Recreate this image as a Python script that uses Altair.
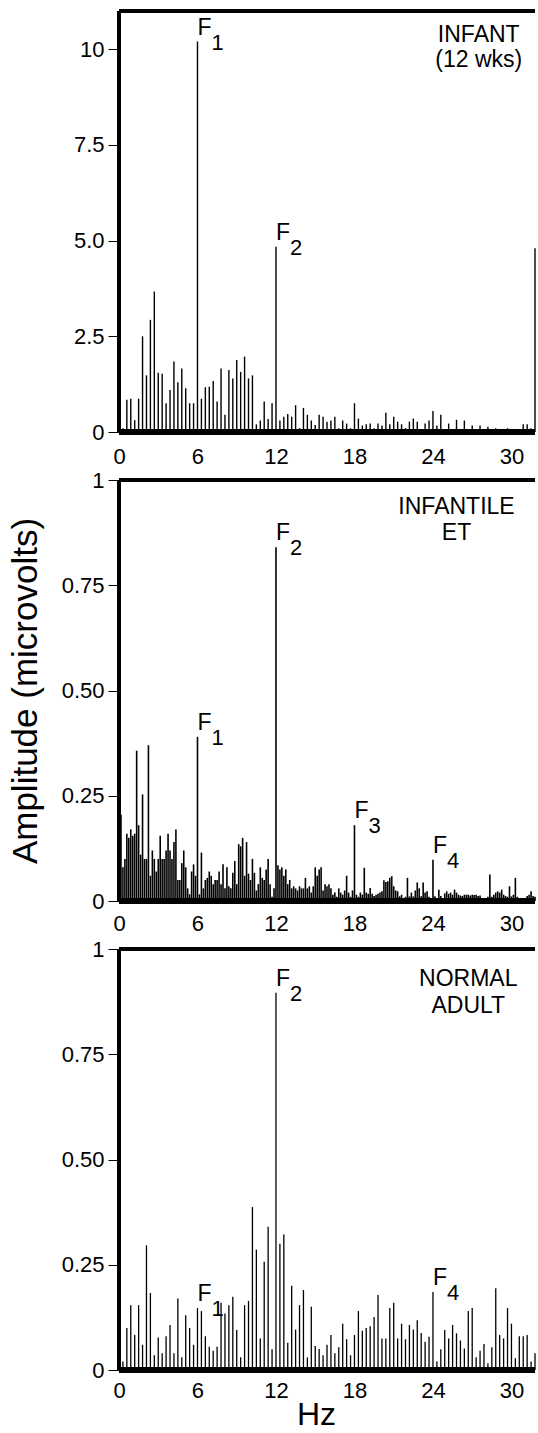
import altair as alt
import pandas as pd

FONT = "Liberation Sans"

# ---------------- data ----------------
# Panel A: infant (12 wks), 0.3 Hz bins
STEP_A = 0.3
infant_amp = [
    0.45, 0.1, 0.84, 0.87, 0.31, 0.87, 2.5, 1.48, 2.93, 3.67,
    1.55, 1.52, 0.75, 1.1, 1.84, 1.3, 1.66, 1.14, 0.75, 0.75,
    10.2, 0.87, 1.17, 1.18, 1.33, 0.8, 1.66, 0.45, 1.62, 1.4,
    1.88, 1.57, 1.97, 1.4, 1.48, 0.2, 0.3, 0.8, 0.34, 0.75,
    4.84, 0.3, 0.4, 0.47, 0.4, 0.7, 0.1, 0.63, 0.45, 0.3,
    0.18, 0.45, 0.4, 0.27, 0.3, 0.4, 0.1, 0.3, 0.22, 0.1,
    0.75, 0.35, 0.17, 0.2, 0.22, 0.1, 0.22, 0.17, 0.5, 0.2,
    0.4, 0.27, 0.2, 0.1, 0.27, 0.35, 0.27, 0.05, 0.22, 0.3,
    0.55, 0.17, 0.45, 0.05, 0.22, 0.05, 0.32, 0.05, 0.3, 0.05,
    0.17, 0.08, 0.17, 0.05, 0.14, 0.08, 0.1, 0.08, 0.08, 0.1,
    0.08, 0.05, 0.03, 0.2, 0.2, 0.1, 4.8,
]

# Panel B: infantile ET, 0.15 Hz bins
STEP_B = 0.15
et_amp = [
    0.03, 0.205, 0.08, 0.1, 0.16, 0.15, 0.17, 0.155, 0.16, 0.357,
    0.18, 0.11, 0.253, 0.1, 0.1, 0.37, 0.06, 0.12, 0.1, 0.07,
    0.1, 0.155, 0.1, 0.1, 0.12, 0.16, 0.12, 0.1, 0.14, 0.17,
    0.05, 0.05, 0.09, 0.12, 0.08, 0.03, 0.016, 0.07, 0.087, 0.06,
    0.39, 0.016, 0.115, 0.03, 0.05, 0.055, 0.07, 0.06, 0.04, 0.05,
    0.05, 0.07, 0.04, 0.087, 0.03, 0.08, 0.035, 0.03, 0.067, 0.095,
    0.04, 0.135, 0.13, 0.15, 0.06, 0.14, 0.065, 0.05, 0.1, 0.067,
    0.025, 0.04, 0.08, 0.055, 0.05, 0.075, 0.1, 0.04, 0.01, 0.03,
    0.84, 0.085, 0.075, 0.08, 0.06, 0.075, 0.04, 0.05, 0.03, 0.035,
    0.03, 0.025, 0.035, 0.03, 0.03, 0.055, 0.03, 0.035, 0.02, 0.035,
    0.08, 0.06, 0.075, 0.08, 0.025, 0.04, 0.035, 0.04, 0.03, 0.015,
    0.02, 0.01, 0.03, 0.02, 0.015, 0.025, 0.06, 0.02, 0.01, 0.025,
    0.18, 0.015, 0.01, 0.02, 0.015, 0.079, 0.02, 0.017, 0.031, 0.017,
    0.012, 0.015, 0.017, 0.02, 0.023, 0.049, 0.045, 0.047, 0.055, 0.059,
    0.035, 0.025, 0.023, 0.011, 0.015, 0.007, 0.01, 0.055, 0.011, 0.02,
    0.011, 0.025, 0.044, 0.03, 0.011, 0.044, 0.02, 0.023, 0.01, 0.007,
    0.098, 0.011, 0.007, 0.027, 0.012, 0.007, 0.018, 0.023, 0.017, 0.02,
    0.015, 0.027, 0.02, 0.015, 0.013, 0.012, 0.015, 0.015, 0.015, 0.013,
    0.015, 0.014, 0.015, 0.012, 0.013, 0.005, 0.004, 0.007, 0.01, 0.063,
    0.01, 0.015, 0.02, 0.023, 0.02, 0.027, 0.015, 0.012, 0.01, 0.035,
    0.011, 0.015, 0.055, 0.01, 0.007, 0.005, 0.007, 0.005, 0.012, 0.015,
    0.023, 0.012, 0.01,
]

# Panel C: normal adult, 0.3 Hz bins
STEP_C = 0.3
adult_amp = [
    0.1, 0.02, 0.1, 0.154, 0.083, 0.154, 0.06, 0.296, 0.183, 0.035,
    0.077, 0.04, 0.08, 0.107, 0.04, 0.17, 0.03, 0.13, 0.1, 0.06,
    0.147, 0.14, 0.08, 0.055, 0.046, 0.055, 0.16, 0.134, 0.154, 0.174,
    0.095, 0.03, 0.154, 0.164, 0.387, 0.286, 0.075, 0.257, 0.34, 0.049,
    0.896, 0.3, 0.322, 0.065, 0.2, 0.096, 0.154, 0.19, 0.03, 0.15,
    0.057, 0.05, 0.035, 0.06, 0.083, 0.04, 0.054, 0.11, 0.073, 0.035,
    0.083, 0.14, 0.093, 0.1, 0.104, 0.126, 0.178, 0.075, 0.075, 0.147,
    0.16, 0.075, 0.11, 0.073, 0.107, 0.096, 0.118, 0.088, 0.067, 0.079,
    0.185, 0.02, 0.049, 0.095, 0.075, 0.107, 0.087, 0.07, 0.051, 0.14,
    0.147, 0.03, 0.046, 0.062, 0.016, 0.054, 0.194, 0.083, 0.075, 0.147,
    0.11, 0.028, 0.08, 0.08, 0.083, 0.02, 0.04,
]

# Peak annotations (frequency, amplitude, subscript)
infant_peak_hz = [6.0, 12.0]
infant_peak_amp = [10.2, 4.84]
infant_peak_sub = ["1", "2"]

et_peak_hz = [6.0, 12.0, 18.0, 24.0]
et_peak_amp = [0.39, 0.84, 0.18, 0.098]
et_peak_sub = ["1", "2", "3", "4"]

adult_peak_hz = [6.0, 12.0, 24.0]
adult_peak_amp = [0.147, 0.896, 0.185]
adult_peak_sub = ["1", "2", "4"]

x_ticks = [0, 6, 12, 18, 24, 30]
infant_yticks = [0, 2.5, 5, 7.5, 10]
uv_yticks = [0, 0.25, 0.5, 0.75, 1]

W = 416
H = 421
XMAX = 31.8


def panel(amps, step, ymax, yticks, label_expr, label_text, label_hz, label_amp,
          line_h, pk_hz, pk_amp, pk_sub, bar_w, label_pad, ytitle=None, xtitle=None):
    n_max = int(round(XMAX / step)) + 1
    df = pd.DataFrame({
        "hz": [round(i * step, 3) for i in range(min(len(amps), n_max))],
        "amp": amps[:n_max],
    })
    pk = pd.DataFrame({"hz": pk_hz, "amp": pk_amp, "sub": pk_sub})
    lab = pd.DataFrame({"hz": [label_hz], "amp": [label_amp], "txt": [label_text]})

    x_axis_kw = dict(values=x_ticks, ticks=False, tickSize=0, labelPadding=label_pad,
                     labelFontSize=22, labelFont=FONT, labelColor="black",
                     labelFlush=False, domain=False, grid=False)
    if xtitle:
        x_axis_kw.update(title=xtitle, titleFont=FONT, titleFontSize=32,
                         titleFontWeight="normal", titleColor="black",
                         titlePadding=-2, titleX=197)
    else:
        x_axis_kw.update(title=None)
    x = alt.X("hz:Q", scale=alt.Scale(domain=[0, XMAX], nice=False, zero=False),
              axis=alt.Axis(**x_axis_kw))

    y_axis_kw = dict(values=yticks, labelExpr=label_expr, tickSize=11, tickWidth=1,
                     tickColor="black", labelPadding=4, labelFontSize=22,
                     labelFont=FONT, labelColor="black", labelFlush=False,
                     domain=False, grid=False)
    if ytitle:
        y_axis_kw.update(title=ytitle, titleFont=FONT, titleFontSize=35,
                         titleFontWeight="normal", titleColor="black",
                         titlePadding=18)
    else:
        y_axis_kw.update(title=None)
    y = alt.Y("amp:Q", scale=alt.Scale(domain=[0, ymax], nice=False),
              axis=alt.Axis(**y_axis_kw))

    bars = alt.Chart(df).mark_rule(color="black", strokeWidth=bar_w).encode(
        x=x, y=y, y2=alt.datum(0))

    f_txt = alt.Chart(pk).mark_text(text="F", align="left", baseline="alphabetic",
                                    dx=0, dy=-7, fontSize=23, font=FONT,
                                    color="black").encode(x=x, y=y)
    sub_txt = alt.Chart(pk).mark_text(align="left", baseline="alphabetic",
                                      dx=14, dy=8, fontSize=22, font=FONT,
                                      color="black").encode(x=x, y=y, text="sub:N")
    corner = alt.Chart(lab).mark_text(align="center", baseline="top", lineBreak="\n",
                                      lineHeight=line_h, fontSize=23, font=FONT,
                                      color="black").encode(x=x, y=y, text="txt:N")

    top = alt.Chart(df).mark_rule(color="black", strokeWidth=4).encode(
        x=alt.value(0), x2=alt.value(W), y=alt.value(0))
    left = alt.Chart(df).mark_rule(color="black", strokeWidth=4).encode(
        x=alt.value(0), y=alt.value(0), y2=alt.value(H))
    bottom = alt.Chart(df).mark_rule(color="black", strokeWidth=4.5).encode(
        x=alt.value(0), x2=alt.value(W), y=alt.value(H))

    return alt.layer(bars, top, left, bottom, f_txt, sub_txt, corner).properties(
        width=W, height=H)


expr_a = "datum.value == 0 ? '0' : datum.value == 10 ? '10' : format(datum.value, '.1f')"
expr_b = "datum.value == 0 ? '0' : datum.value == 1 ? '1' : format(datum.value, '.2f')"

pA = panel(infant_amp, STEP_A, 11.0, infant_yticks, expr_a, "INFANT\n(12 wks)",
           27.5, 10.65, 25, infant_peak_hz, infant_peak_amp, infant_peak_sub,
           1.4, 14)
pB = panel(et_amp, STEP_B, 1.0, uv_yticks, expr_b, "INFANTILE\nET",
           25.8, 0.962, 26, et_peak_hz, et_peak_amp, et_peak_sub,
           1.6, 12, ytitle="Amplitude (microvolts)")
pC = panel(adult_amp, STEP_C, 1.0, uv_yticks, expr_b, "NORMAL\nADULT",
           26.7, 0.955, 27, adult_peak_hz, adult_peak_amp, adult_peak_sub,
           1.3, 10, xtitle="Hz")

chart = alt.vconcat(pA, pB, pC, spacing=48, bounds="flush").properties(
    padding={"left": 8, "top": 9, "right": 0, "bottom": 0},
    background="white",
).configure_view(stroke=None)

chart.save("out.html", embed_options={"renderer": "svg", "actions": False})
